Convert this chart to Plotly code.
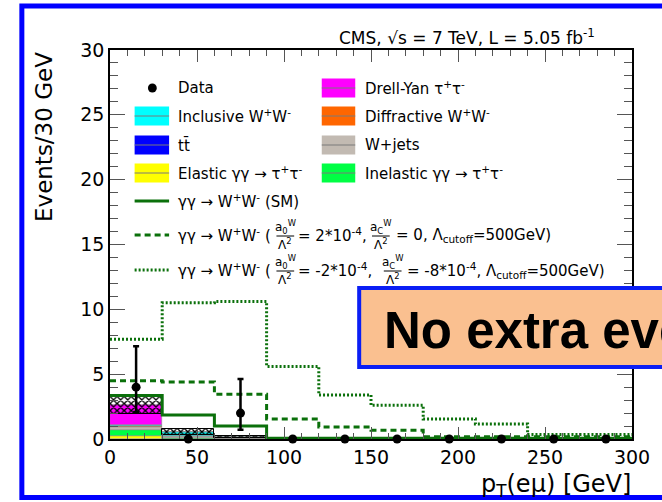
import numpy as np
import plotly.graph_objects as go

# ---- binning (pT(e mu) in 30 GeV bins) ----
bin_edges = [0, 30, 60, 90, 120, 150, 180, 210, 240, 270, 300]
bin_centers = [15, 45, 75, 105, 135, 165, 195, 225, 255, 285]

# ---- observed data with asymmetric Poisson errors ----
data_counts = [4, 0, 2, 0, 0, 0, 0, 0, 0, 0]
data_err_up = [3.16, 0, 2.63, 0, 0, 0, 0, 0, 0, 0]
data_err_down = [1.91, 0, 1.29, 0, 0, 0, 0, 0, 0, 0]

# ---- stacked backgrounds (bottom to top) ----
elastic_tautau = [0.22, 0.03, 0.01, 0.00, 0.00, 0.00, 0.00, 0.00, 0.00, 0.00]
inelastic_tautau = [0.45, 0.08, 0.02, 0.01, 0.00, 0.00, 0.00, 0.00, 0.00, 0.00]
w_jets = [0.25, 0.12, 0.02, 0.01, 0.01, 0.00, 0.00, 0.00, 0.00, 0.00]
diffractive_ww = [0.05, 0.02, 0.01, 0.01, 0.00, 0.00, 0.00, 0.00, 0.00, 0.00]
ttbar = [0.02, 0.02, 0.02, 0.01, 0.01, 0.01, 0.01, 0.01, 0.00, 0.00]
inclusive_ww = [0.10, 0.26, 0.07, 0.03, 0.02, 0.02, 0.02, 0.01, 0.01, 0.01]
drell_yan = [1.55, 0.02, 0.00, 0.00, 0.00, 0.00, 0.00, 0.00, 0.00, 0.00]
bkg_uncertainty = [0.75, 0.25, 0.10, 0.04, 0.03, 0.03, 0.03, 0.02, 0.02, 0.02]

# ---- gamma gamma -> WW predictions ----
ww_sm = [3.35, 1.85, 1.00, 0.05, 0.05, 0.05, 0.05, 0.05, 0.05, 0.05]
ww_aqgc_a0 = [4.50, 4.40, 3.45, 1.55, 0.92, 0.68, 0.18, 0.18, 0.18, 0.18]
ww_aqgc_a0_ac = [7.70, 10.50, 10.60, 5.60, 3.40, 2.60, 1.55, 1.15, 0.35, 0.35]

# ---- text ----
y_title = "Events/30 GeV"
x_title = "p<sub>T</sub>(eμ) [GeV]"
header = "CMS, √s = 7 TeV, L = 5.05 fb<sup>-1</sup>"
callout = "<b>No extra events</b>"

stack = [
    ("Elastic γγ → τ<sup>+</sup>τ<sup>-</sup>", elastic_tautau, "#FFFF00"),
    ("Inelastic γγ → τ<sup>+</sup>τ<sup>-</sup>", inelastic_tautau, "#00FF44"),
    ("W+jets", w_jets, "#C2BAB2"),
    ("Diffractive W<sup>+</sup>W<sup>-</sup>", diffractive_ww, "#FF6600"),
    ("tt\u0304", ttbar, "#0000FF"),
    ("Inclusive W<sup>+</sup>W<sup>-</sup>", inclusive_ww, "#00FFFF"),
    ("Drell-Yan τ<sup>+</sup>τ<sup>-</sup>", drell_yan, "#FF00FF"),
]

LINE_GREEN = "#0B700B"
DASHED = "6px,4px"
DOTTED = "2px,2px"
FONT = "DejaVu Sans"

# pixel geometry of the figure / plotting area
W, H = 662, 502
L_PX, R_PX, T_PX, B_PX = 110, 640, 50, 439


def px(x):
    return (x - L_PX) / (R_PX - L_PX)


def py(y):
    return (B_PX - y) / (B_PX - T_PX)


fig = go.Figure()

# stacked background bars
base = np.zeros(len(bin_centers))
for name, vals, color in stack:
    v = np.array(vals, dtype=float)
    fig.add_trace(go.Bar(
        x=bin_centers, y=v, base=base.copy(), width=30, name=name,
        marker=dict(color=color, line=dict(color="#8a8a8a", width=0.6)),
        showlegend=False, hoverinfo="skip",
    ))
    base = base + v
total_bkg = base

# hatched uncertainty band on the total background
unc = np.array(bkg_uncertainty)
fig.add_trace(go.Bar(
    x=bin_centers, y=2 * unc, base=total_bkg - unc, width=30,
    marker=dict(color="rgba(0,0,0,0)",
                line=dict(color="black", width=1),
                pattern=dict(shape="x", fgcolor="black", size=5,
                             solidity=0.45, fillmode="replace")),
    showlegend=False, hoverinfo="skip",
))


def step_xy(vals):
    return bin_edges, list(vals) + [vals[-1]]


for vals, dash, width in [(ww_sm, "solid", 3),
                          (ww_aqgc_a0, DASHED, 3),
                          (ww_aqgc_a0_ac, DOTTED, 3)]:
    sx, sy = step_xy(vals)
    fig.add_trace(go.Scatter(
        x=sx, y=sy, mode="lines", line=dict(shape="hv", color=LINE_GREEN,
                                            width=width, dash=dash),
        showlegend=False, hoverinfo="skip", cliponaxis=True,
    ))

# data points
fig.add_trace(go.Scatter(
    x=bin_centers, y=data_counts, mode="markers",
    marker=dict(color="black", size=9),
    error_y=dict(type="data", symmetric=False, array=data_err_up,
                 arrayminus=data_err_down, color="black", thickness=2.5,
                 width=3),
    showlegend=False, cliponaxis=False,
))

shapes = []
annotations = []


def text(x, y, s, size=15, anchor="left", yanchor="middle", **kw):
    annotations.append(dict(
        x=px(x), y=py(y), xref="paper", yref="paper", text=s,
        showarrow=False, xanchor=anchor, yanchor=yanchor,
        font=dict(family=FONT, size=size, color="black"), **kw))


def box(x0, y0, x1, y1, fill):
    shapes.append(dict(type="rect", xref="paper", yref="paper",
                       x0=px(x0), x1=px(x1), y0=py(y0), y1=py(y1),
                       fillcolor=fill, line=dict(width=0), layer="above"))
    shapes.append(dict(type="line", xref="paper", yref="paper",
                       x0=px(x0), x1=px(x1), y0=py((y0 + y1) / 2),
                       y1=py((y0 + y1) / 2),
                       line=dict(color="#7a7a7a", width=1), layer="above"))


def hline(x0, x1, y, dash):
    shapes.append(dict(type="line", xref="paper", yref="paper",
                       x0=px(x0), x1=px(x1), y0=py(y), y1=py(y),
                       line=dict(color=LINE_GREEN, width=3, dash=dash),
                       layer="above"))


# legend: two columns of filled entries
rows = [88, 116, 145, 173]
shapes.append(dict(type="circle", xref="paper", yref="paper",
                   x0=px(148.5), x1=px(157.5), y0=py(83.5), y1=py(92.5),
                   fillcolor="black", line=dict(width=0), layer="above"))
text(177, rows[0], "Data")
left_col = [("Inclusive W<sup>+</sup>W<sup>-</sup>", "#00FFFF"),
            ("tt\u0304", "#0000FF"),
            ("Elastic γγ → τ<sup>+</sup>τ<sup>-</sup>", "#FFFF00")]
right_col = [("Drell-Yan τ<sup>+</sup>τ<sup>-</sup>", "#FF00FF"),
             ("Diffractive W<sup>+</sup>W<sup>-</sup>", "#FF6600"),
             ("W+jets", "#C2BAB2"),
             ("Inelastic γγ → τ<sup>+</sup>τ<sup>-</sup>", "#00FF44")]
for (lab, col), yc in zip(left_col, rows[1:]):
    box(135, yc - 9.5, 170, yc + 9.5, col)
    text(177, yc, lab)
for (lab, col), yc in zip(right_col, rows):
    box(325, yc - 9.5, 359, yc + 9.5, col)
    text(367, yc, lab)

# legend: line entries
hline(135, 170, 201, "solid")
text(177, 201, "γγ → W<sup>+</sup>W<sup>-</sup> (SM)")


def fraction(xc, yc, num):
    text(xc, yc - 8, num, size=12, anchor="center")
    text(xc, yc + 9, "Λ<sup>2</sup>", size=12, anchor="center")
    shapes.append(dict(type="line", xref="paper", yref="paper",
                       x0=px(xc - 9), x1=px(xc + 9), y0=py(yc + 1),
                       y1=py(yc + 1), line=dict(color="black", width=1),
                       layer="above"))


# (row y, line dash, a0 text, aC text, x of 2nd fraction, x of tail text)
for yc, dash, a0, ac, xf2, xtail in [
        (235, DASHED, "= 2*10<sup>-4</sup>,", "= 0, ", 385, 398),
        (270, DOTTED, "= -2*10<sup>-4</sup>,", "= -8*10<sup>-4</sup>, ",
         397, 410)]:
    hline(135, 170, yc, dash)
    text(177, yc, "γγ → W<sup>+</sup>W<sup>-</sup> (")
    fraction(288, yc, "a<sub>0</sub><sup>W</sup>")
    text(299, yc, a0)
    fraction(xf2, yc, "a<sub>C</sub><sup>W</sup>")
    text(xtail, yc, ac + "Λ<sub>cutoff</sub>=500GeV)")

# axis titles and header
annotations.append(dict(x=px(43), y=py(137), xref="paper", yref="paper",
                        text=y_title, textangle=-90, showarrow=False,
                        xanchor="center", yanchor="middle",
                        font=dict(family=FONT, size=23, color="black")))
text(641, 485, x_title, size=24, anchor="right")
text(472, 37, header, size=17, anchor="center")

# outer frame
shapes.append(dict(type="rect", xref="paper", yref="paper",
                   x0=px(20.5), x1=px(760), y0=py(6), y1=py(497.5),
                   line=dict(color="#0000FF", width=5), fillcolor="rgba(0,0,0,0)",
                   layer="above"))

# call-out box
shapes.append(dict(type="rect", xref="paper", yref="paper",
                   x0=px(363), x1=px(760), y0=py(288), y1=py(367),
                   line=dict(color="#0A1EF5", width=4), fillcolor="#FAC090",
                   layer="above"))
annotations.append(dict(x=px(386), y=py(330), xref="paper", yref="paper",
                        text=callout, showarrow=False, xanchor="left",
                        yanchor="middle",
                        font=dict(family="Liberation Sans", size=51,
                                  color="black")))

axis_common = dict(
    showgrid=False, zeroline=False, showline=True, linecolor="black",
    linewidth=1.5, mirror="allticks", ticks="inside", tickcolor="#555555",
    tickfont=dict(family=FONT, size=19, color="black"),
)

fig.update_layout(
    width=W, height=H,
    margin=dict(l=L_PX, r=W - R_PX, t=T_PX, b=H - B_PX),
    paper_bgcolor="white", plot_bgcolor="white",
    barmode="overlay", bargap=0,
    showlegend=False,
    shapes=shapes, annotations=annotations,
    xaxis=dict(range=[0, 300], dtick=50, tick0=0, ticklen=12,
               minor=dict(dtick=10, ticklen=6, ticks="inside",
                          tickcolor="#555555"),
               **axis_common),
    yaxis=dict(range=[0, 30], dtick=5, tick0=0, ticklen=15,
               minor=dict(dtick=1, ticklen=8, ticks="inside",
                          tickcolor="#555555"),
               **axis_common),
)

fig.write_html("out.html")
